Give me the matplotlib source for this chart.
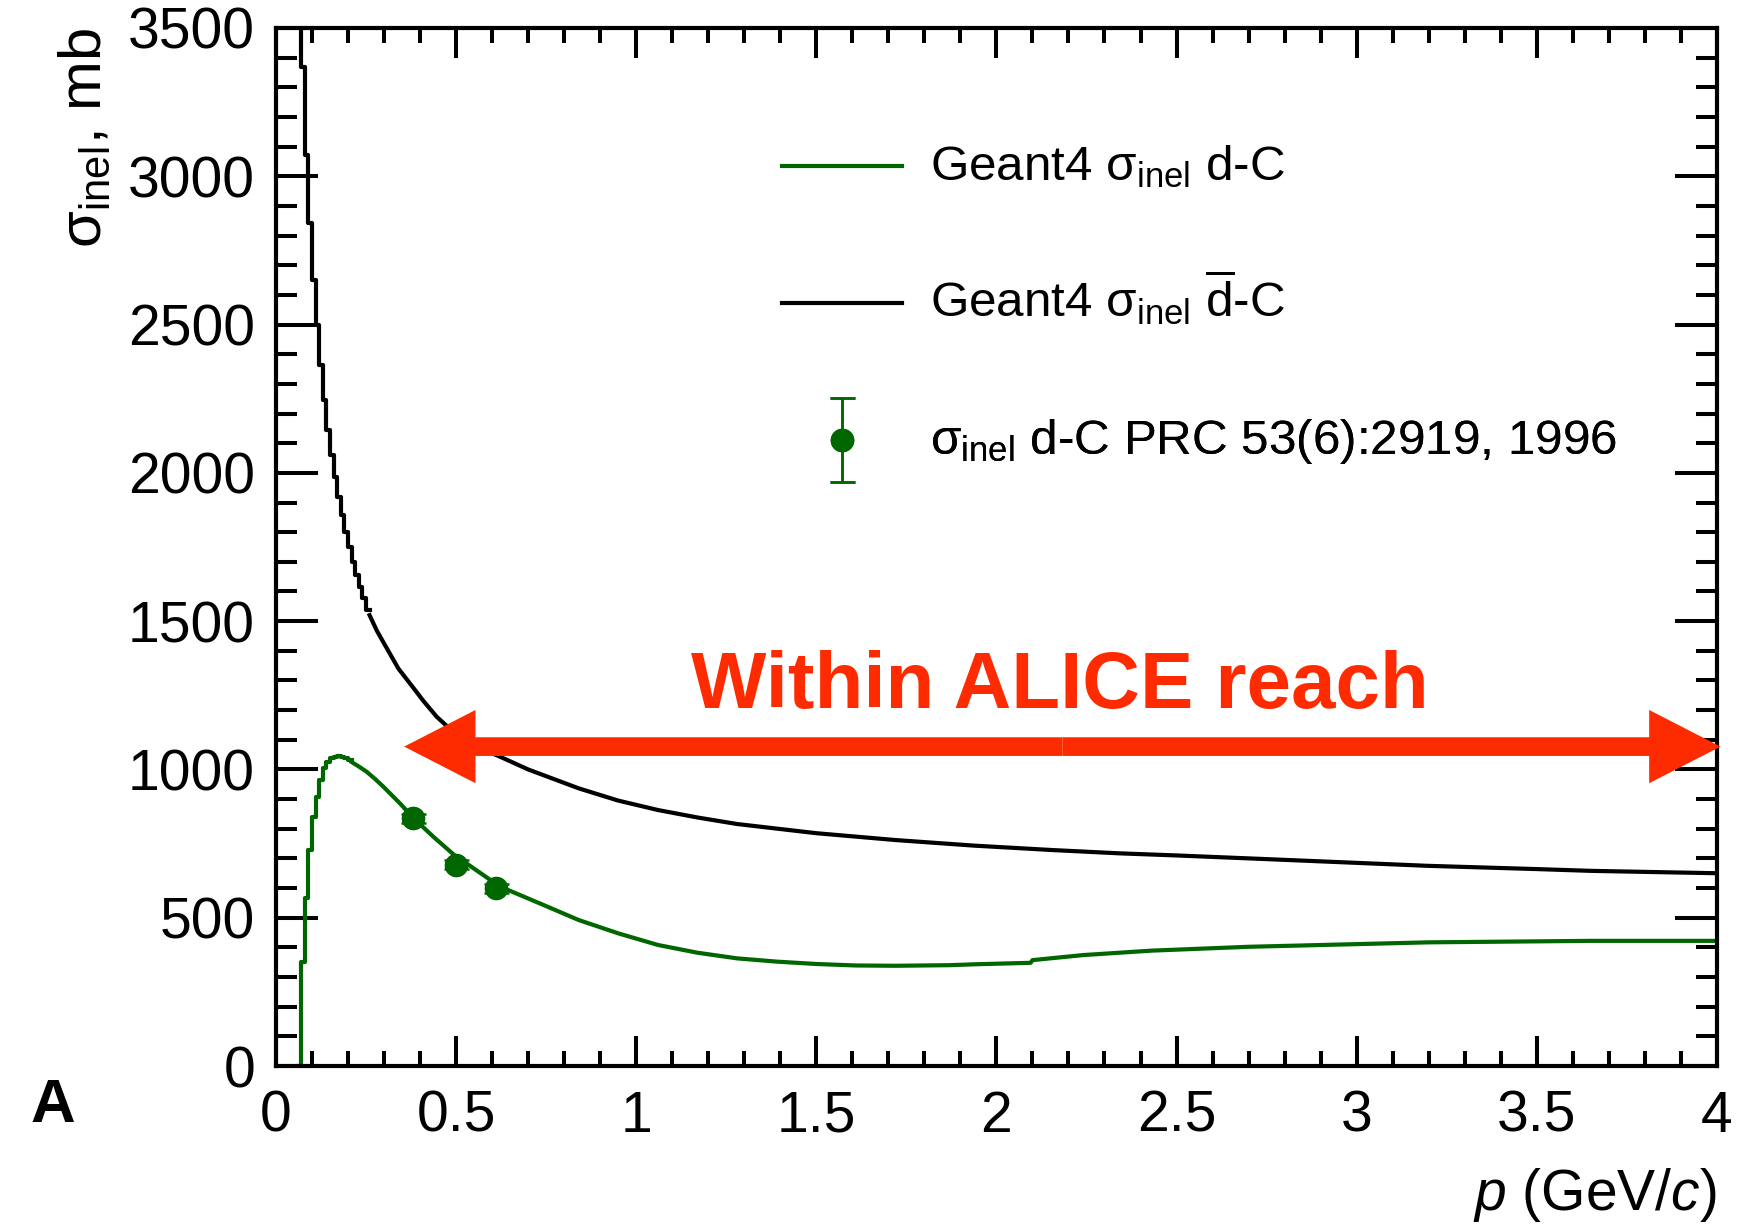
import matplotlib

matplotlib.use("Agg")
import matplotlib.pyplot as plt
from matplotlib.container import ErrorbarContainer
from matplotlib.legend_handler import HandlerErrorbar
from matplotlib.patches import FancyArrow
from matplotlib.ticker import FuncFormatter, MultipleLocator

plt.rcParams["font.family"] = ["Liberation Sans", "DejaVu Sans"]
plt.rcParams["mathtext.fontset"] = "custom"
plt.rcParams["mathtext.rm"] = "Liberation Sans"
plt.rcParams["mathtext.it"] = "Liberation Sans:italic"
plt.rcParams["mathtext.bf"] = "Liberation Sans:bold"

GREEN = "#006600"
RED = "#ff2b00"

# anti-deuteron - C, Geant4: histogram bins at low p (left edges), then smooth part
DBAR_STEP_P = [0.06, 0.07, 0.08, 0.09, 0.10, 0.11, 0.12, 0.13, 0.14, 0.15,
               0.16, 0.17, 0.18, 0.19, 0.20, 0.21, 0.22, 0.23, 0.24, 0.25]
DBAR_STEP_SIGMA = [3650, 3367, 3071, 2843, 2650, 2498, 2363, 2245, 2144, 2060,
                   1987, 1919, 1857, 1801, 1751, 1700, 1655, 1616, 1577, 1537]
DBAR_P = [0.26, 0.28, 0.30, 0.34, 0.372, 0.41, 0.446, 0.48, 0.502, 0.55,
          0.622, 0.70, 0.841, 0.95, 1.061, 1.17, 1.28, 1.50, 1.719, 1.939,
          2.158, 2.343, 2.5, 2.742, 3.0, 3.197, 3.5, 3.651, 4.0]
DBAR_SIGMA = [1520, 1468, 1425, 1340, 1290, 1230, 1178, 1140, 1110, 1080,
              1043, 1000, 936, 895, 863, 838, 816, 785, 762, 743,
              728, 717, 710, 698, 685, 675, 664, 658, 650]

# deuteron - C, Geant4
D_STEP_P = [0.06, 0.07, 0.08, 0.09, 0.10, 0.11, 0.12, 0.13, 0.14, 0.15,
            0.16, 0.17, 0.18, 0.19, 0.20]
D_STEP_SIGMA = [0, 352, 565, 728, 841, 908, 964, 1004, 1026, 1037,
                1043, 1044, 1043, 1040, 1032]
D_P = [0.21, 0.23, 0.252, 0.275, 0.298, 0.344, 0.38, 0.437, 0.50, 0.529,
       0.622, 0.731, 0.841, 0.951, 1.061, 1.17, 1.28, 1.39, 1.50, 1.61,
       1.72, 1.87, 1.94, 2.095, 2.10, 2.24, 2.43, 2.70, 3.2, 3.65, 4.0]
D_SIGMA = [1025, 1010, 992, 968, 942, 886, 838, 773, 706, 683,
           605, 549, 492, 447, 408, 382, 363, 352, 344, 339,
           338, 340, 343, 348, 357, 374, 389, 402, 417, 422, 422]

# PRC 53(6):2919, 1996
DATA_P = [0.38, 0.50, 0.61]
DATA_SIGMA = [835, 678, 599]
DATA_ERR = [15, 15, 15]

LABELS = [
    r"Geant4 $\mathrm{\sigma}_{\mathrm{inel}}$ d-C",
    r"Geant4 $\mathrm{\sigma}_{\mathrm{inel}}$ $\overline{\mathrm{d}}$-C",
    r"$\mathrm{\sigma}_{\mathrm{inel}}$ d-C PRC 53(6):2919, 1996",
]

fig = plt.figure(figsize=(17.42, 12.27), dpi=100)
ax = fig.add_axes([0.1584, 0.1312, 0.8272, 0.8460])

ax.plot(DBAR_STEP_P + DBAR_P[:1], DBAR_STEP_SIGMA + DBAR_STEP_SIGMA[-1:],
        drawstyle="steps-post", color="black", lw=3)
h_black, = ax.plot(DBAR_P, DBAR_SIGMA, color="black", lw=3)

ax.plot(D_STEP_P + D_P[:1], D_STEP_SIGMA + D_STEP_SIGMA[-1:],
        drawstyle="steps-post", color=GREEN, lw=3)
h_green, = ax.plot(D_P, D_SIGMA, color=GREEN, lw=3)

eb = ax.errorbar(DATA_P, DATA_SIGMA, yerr=DATA_ERR, fmt="o", color=GREEN,
                 ms=16, elinewidth=1.8, capsize=9, capthick=1.8, zorder=4)

# double-headed "Within ALICE reach" arrow
arrow_left, arrow_right, arrow_y = 0.356, 4.01, 1077
mid = (arrow_left + arrow_right) / 2
for end in (arrow_left, arrow_right):
    ax.add_patch(FancyArrow(mid, arrow_y, end - mid, 0, width=63, head_width=247,
                            head_length=0.198, length_includes_head=True,
                            color=RED, lw=0, clip_on=False, zorder=5))
ax.text(2.176, 1206, "Within ALICE reach", ha="center", va="baseline",
        fontsize=57.5, fontweight="bold", color=RED, zorder=6)

ax.set_xlim(0, 4)
ax.set_ylim(0, 3500)
ax.xaxis.set_major_locator(MultipleLocator(0.5))
ax.xaxis.set_minor_locator(MultipleLocator(0.1))
ax.yaxis.set_major_locator(MultipleLocator(500))
ax.yaxis.set_minor_locator(MultipleLocator(100))
ax.xaxis.set_major_formatter(FuncFormatter(lambda v, _: f"{v:g}"))

ax.tick_params(which="both", direction="in", top=True, right=True, width=2.9,
               labelsize=41)
ax.tick_params(axis="x", which="major", length=21.6, pad=17)
ax.tick_params(axis="x", which="minor", length=10.8)
ax.tick_params(axis="y", which="major", length=30, pad=15)
ax.tick_params(axis="y", which="minor", length=15)
for spine in ax.spines.values():
    spine.set_linewidth(3)

ax.set_xlabel(r"$p$ (GeV/$c$)", fontsize=41, ha="right", va="baseline")
ax.xaxis.set_label_coords(1.0, -0.1387)
ax.set_ylabel(r"$\mathrm{\sigma}_{\mathrm{inel}}$, mb", fontsize=43, loc="top")
ax.yaxis.set_label_coords(-0.113, 1.0)

# one legend per row so the rows keep the even ROOT spacing
row_bottoms = [190, 327, 466]
for handle, label, bottom in zip([h_green, h_black, eb], LABELS, row_bottoms):
    leg = ax.legend([handle], [label], loc="lower left",
                    bbox_to_anchor=(0.4489, 1 - bottom / 1227),
                    bbox_transform=fig.transFigure, frameon=False, fontsize=35.6,
                    handlelength=2.43, handleheight=0.24, handletextpad=0.57,
                    borderpad=0, borderaxespad=0,
                    handler_map={ErrorbarContainer: HandlerErrorbar(yerr_size=0.85)})
    ax.add_artist(leg)

fig.text(30 / 1742, 1 - 1122 / 1227, "A", fontsize=44.6, fontweight="bold",
         ha="left", va="baseline")

fig.savefig("out.png", dpi=100)
